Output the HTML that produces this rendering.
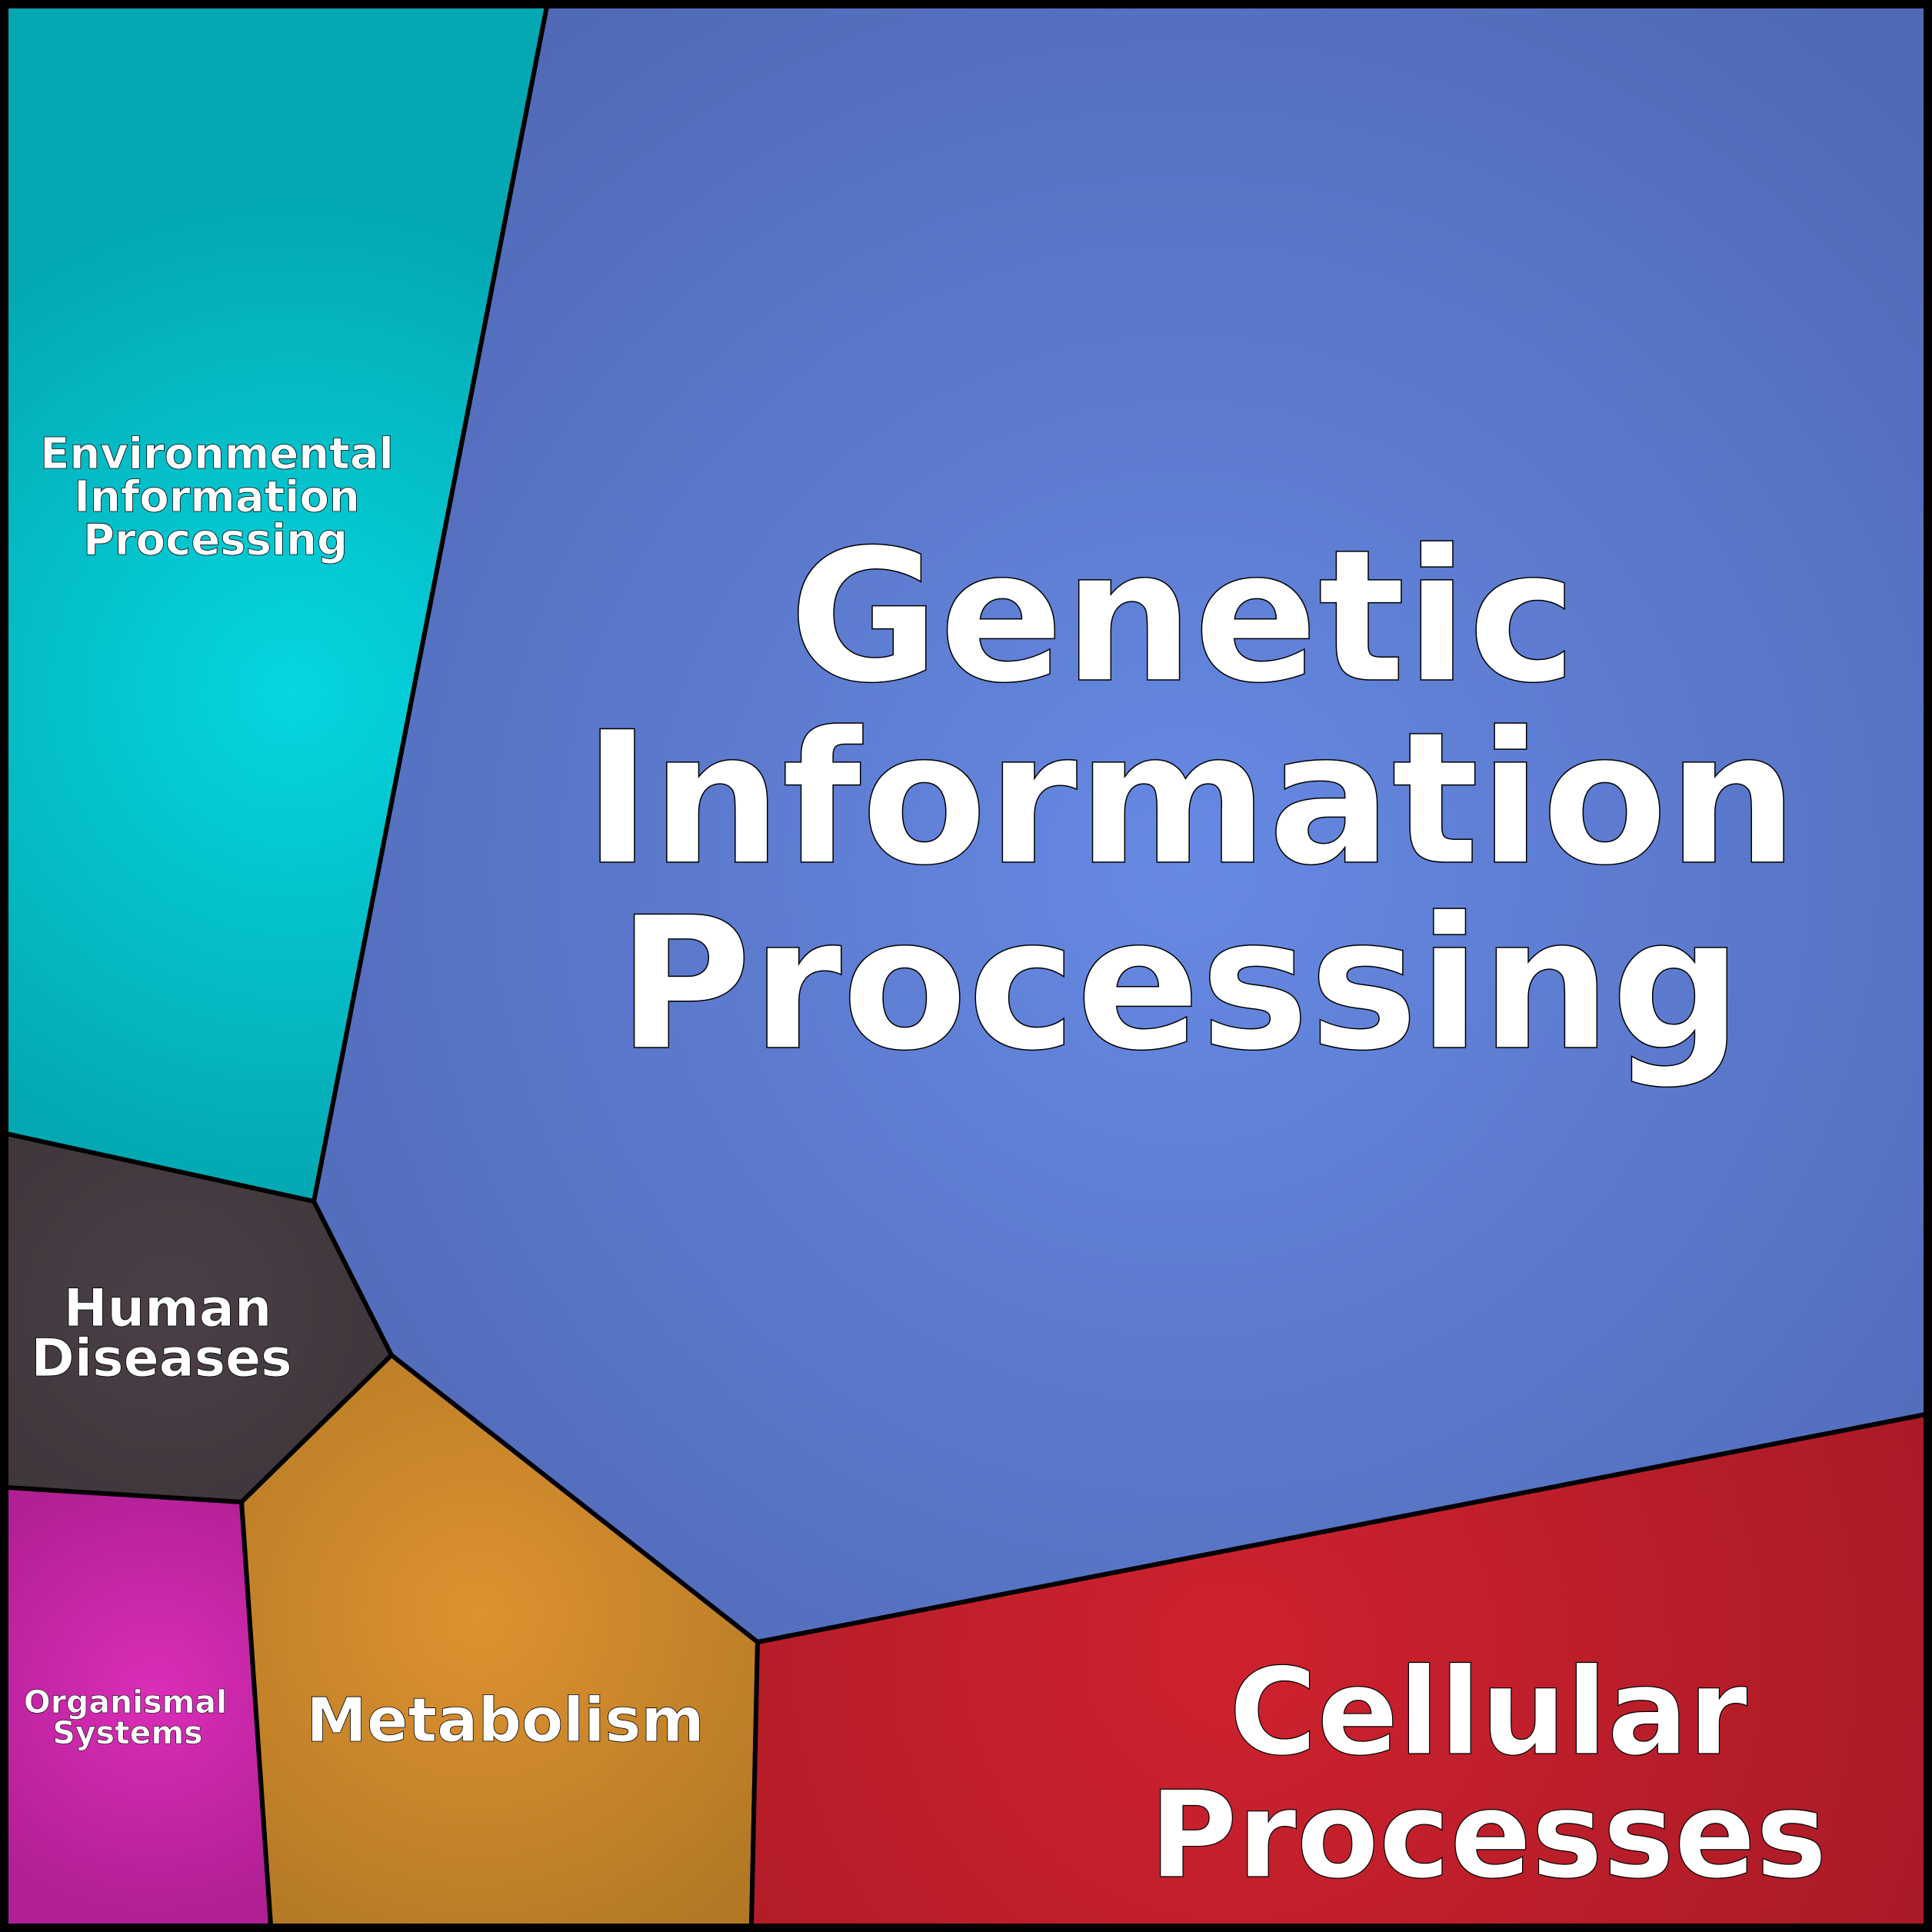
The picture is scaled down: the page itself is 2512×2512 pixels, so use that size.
<!DOCTYPE html>
<html><head><meta charset="utf-8"><style>html,body{margin:0;padding:0;background:#fff}svg{display:block}</style></head><body>
<svg width="2512" height="2512" viewBox="0 0 2512 2512" xmlns="http://www.w3.org/2000/svg">
<defs>
<radialGradient id="gb" cx="1540" cy="1130" r="1400" gradientUnits="userSpaceOnUse"><stop offset="0" stop-color="#6689e3"/><stop offset="1" stop-color="#5069b5"/></radialGradient>
<radialGradient id="gc" cx="380" cy="900" r="650" gradientUnits="userSpaceOnUse"><stop offset="0" stop-color="#05d6e0"/><stop offset="1" stop-color="#03a8b2"/></radialGradient>
<radialGradient id="gh" cx="220" cy="1700" r="400" gradientUnits="userSpaceOnUse"><stop offset="0" stop-color="#4b3f47"/><stop offset="1" stop-color="#3a3438"/></radialGradient>
<radialGradient id="go" cx="620" cy="2100" r="500" gradientUnits="userSpaceOnUse"><stop offset="0" stop-color="#de9230"/><stop offset="1" stop-color="#b27824"/></radialGradient>
<radialGradient id="gm" cx="200" cy="2200" r="300" gradientUnits="userSpaceOnUse"><stop offset="0" stop-color="#db2db8"/><stop offset="1" stop-color="#b01f94"/></radialGradient>
<radialGradient id="gr" cx="1600" cy="2150" r="1000" gradientUnits="userSpaceOnUse"><stop offset="0" stop-color="#ce222e"/><stop offset="1" stop-color="#a81a26"/></radialGradient>
</defs>
<g stroke="#000" stroke-width="6" stroke-linejoin="round">
<polygon points="711,8 2504,8 2504,1839 985,2135 509,1762 408,1562" fill="url(#gb)"/>
<polygon points="8,8 711,8 408,1562 8,1474" fill="url(#gc)"/>
<polygon points="8,1474 408,1562 509,1762 314,1953 8,1934" fill="url(#gh)"/>
<polygon points="314,1953 509,1762 985,2135 977,2504 352,2504" fill="url(#go)"/>
<polygon points="8,1934 314,1953 352,2504 8,2504" fill="url(#gm)"/>
<polygon points="985,2135 2504,1839 2504,2504 977,2504" fill="url(#gr)"/>
</g>
<rect x="4" y="4" width="2504" height="2504" fill="none" stroke="#000" stroke-width="9"/>
<g font-family="DejaVu Sans, Liberation Sans, sans-serif" font-weight="bold" fill="#fff" stroke="#000" text-anchor="middle">
<text font-size="238" stroke-width="1.5"><tspan x="1538" y="884">Genetic</tspan><tspan x="1548" y="1121">Information</tspan><tspan x="1534" y="1362">Processing</tspan></text>
<text font-size="156" stroke-width="1.2"><tspan x="1935" y="2280">Cellular</tspan><tspan x="1935" y="2440">Processes</tspan></text>
<text font-size="56" stroke-width="0.8"><tspan x="282" y="609">Environmental</tspan><tspan x="282" y="665">Information</tspan><tspan x="280" y="721">Processing</tspan></text>
<text font-size="68" stroke-width="0.8"><tspan x="218" y="1724">Human</tspan><tspan x="210" y="1789">Diseases</tspan></text>
<text font-size="79" stroke-width="0.8"><tspan x="657" y="2264">Metabolism</tspan></text>
<text font-size="41" stroke-width="0.6"><tspan x="163" y="2227">Organismal</tspan><tspan x="166" y="2267">Systems</tspan></text>
</g>
</svg>
</body></html>
